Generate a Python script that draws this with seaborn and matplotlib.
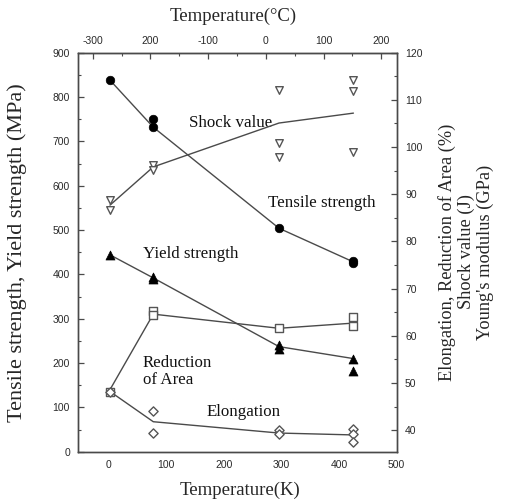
import matplotlib
matplotlib.use("Agg")
import matplotlib.pyplot as plt
import seaborn as sns
import numpy as np

# ---------------- data ----------------
T_line = [3, 78, 296, 425]                     # temperature (K) of curve nodes

T_tensile = [3, 78, 78, 296, 425, 425]
tensile = [838, 750, 732, 504, 430, 425]       # MPa
tensile_line = [838, 732, 504, 428]

T_yield = [3, 78, 78, 296, 296, 425, 425]
yield_s = [444, 395, 389, 240, 232, 210, 181]  # MPa
yield_line = [444, 392, 237, 210]

T_shock = [3, 3, 78, 78, 296, 296, 296, 425, 425, 425]
shock = [88.8, 86.7, 96.2, 95.1, 112.1, 100.9, 98.0, 114.2, 111.9, 98.9]  # J
shock_line = [87.7, 95.8, 105.1, 107.2]

T_ra = [3, 78, 78, 296, 425, 425]
red_area = [48.2, 65.2, 64.4, 61.6, 63.9, 62.1]   # %
ra_line = [48.6, 64.6, 61.6, 62.7]

T_el = [3, 78, 78, 296, 296, 425, 425, 425]
elong = [48.2, 44.1, 39.4, 40.0, 39.2, 40.2, 39.2, 37.6]  # %
el_line = [48.2, 41.8, 39.4, 39.0]

k_ticks = [0, 100, 200, 300, 400, 500]
left_ticks = [0, 100, 200, 300, 400, 500, 600, 700, 800, 900]
right_ticks = [40, 50, 60, 70, 80, 90, 100, 110, 120]
c_ticks = [-300, -200, -100, 0, 100, 200]
c_labels = ["-300", "200", "-100", "0", "100", "200"]

# ---------------- style ----------------
sns.set_style("white")
plt.rcParams["font.family"] = ["Liberation Serif", "DejaVu Serif"]

LINE = "#4a4a4a"
EDGE = "#555555"
TICKC = "#2a2a2a"

fig = plt.figure(figsize=(5.11, 5.04), dpi=100)
ax = fig.add_axes([0.1532, 0.1038, 0.6231, 0.7916])
ax2 = ax.twinx()

# lines
for xs, ys, a in [(T_line, tensile_line, ax), (T_line, yield_line, ax),
                  (T_line, shock_line, ax2), (T_line, ra_line, ax2),
                  (T_line, el_line, ax2)]:
    sns.lineplot(x=xs, y=ys, ax=a, color=LINE, lw=1.0, estimator=None,
                 sort=False, legend=False, zorder=2)

# markers
sns.scatterplot(x=T_tensile, y=tensile, ax=ax, marker="o", s=38,
                color="black", edgecolor="black", zorder=4, legend=False)
sns.scatterplot(x=T_yield, y=yield_s, ax=ax, marker="^", s=42,
                color="black", edgecolor="black", zorder=4, legend=False)
sns.scatterplot(x=T_shock, y=shock, ax=ax2, marker="v", s=30,
                facecolor="white", edgecolor=EDGE, linewidth=1.0, zorder=4, legend=False)
sns.scatterplot(x=T_ra, y=red_area, ax=ax2, marker="s", s=26,
                facecolor="white", edgecolor=EDGE, linewidth=1.0, zorder=4, legend=False)
sns.scatterplot(x=T_el, y=elong, ax=ax2, marker="D", s=22,
                facecolor="white", edgecolor=EDGE, linewidth=1.0, zorder=4, legend=False)

# limits & ticks
ax.set_xlim(-52, 500)
ax.set_ylim(0, 900)
ax2.set_ylim(35.45, 120)
ax.set_xticks(k_ticks)
ax.set_xticks(np.arange(50, 500, 100), minor=True)
ax.set_yticks(left_ticks)
ax.set_yticks(np.arange(50, 900, 100), minor=True)
ax2.set_yticks(right_ticks)
ax2.set_yticks(np.arange(45, 120, 10), minor=True)

tick_font = dict(family="Liberation Sans", size=7.5, color=TICKC)
ax.set_xticklabels([str(v) for v in k_ticks], fontdict=tick_font)
ax.set_yticklabels([str(v) for v in left_ticks], fontdict=tick_font)
ax2.set_yticklabels([str(v) for v in right_ticks], fontdict=tick_font)

for a in (ax, ax2):
    a.tick_params(which="major", direction="in", length=4, width=0.9, color=LINE, pad=6)
    a.tick_params(which="minor", direction="in", length=2, width=0.8, color=LINE)
    for s in a.spines.values():
        s.set_color(LINE)
        s.set_linewidth(1.0)
ax2.tick_params(axis="y", which="both", right=True, left=False)

sec = ax.secondary_xaxis("top", functions=(lambda k: k - 273.15, lambda c: c + 273.15))
sec.set_xticks(c_ticks)
sec.set_xticklabels(c_labels, fontdict=tick_font)
sec.set_xticks(np.arange(-250, 250, 100), minor=True)
sec.tick_params(which="major", direction="in", length=4, width=0.9, color=LINE, pad=5)
sec.tick_params(which="minor", direction="in", length=2, width=0.8, color=LINE)
sec.spines["top"].set_color(LINE)

# annotations
tf = dict(fontsize=12.2, color="#111111")
ax.text(140, 741, "Shock value", va="center", ha="left", **tf)
ax.text(277, 560, "Tensile strength", va="center", ha="left", **tf)
ax.text(60, 447, "Yield strength", va="center", ha="left", **tf)
ax.text(60, 181, "Reduction\nof Area", va="center", ha="left", linespacing=1.05, **tf)
ax.text(170, 90, "Elongation", va="center", ha="left", **tf)

# axis labels
fig.text(233 / 511, 1 - 16 / 504, "Temperature(\u00b0C)", ha="center", va="center", fontsize=13.5)
fig.text(240 / 511, 1 - 490 / 504, "Temperature(K)", ha="center", va="center", fontsize=13.5)
fig.text(17 / 511, 1 - 253 / 504, "Tensile strength, Yield strength (MPa)",
         rotation=90, ha="center", va="center", fontsize=16)
fig.text(466 / 511, 1 - 252 / 504,
         "Elongation, Reduction of Area (%)\nShock value (J)\nYoung's modulus (GPa)",
         rotation=90, ha="center", va="center", fontsize=13.2, linespacing=1.12,
         multialignment="center")

fig.savefig("out.png", dpi=100)
